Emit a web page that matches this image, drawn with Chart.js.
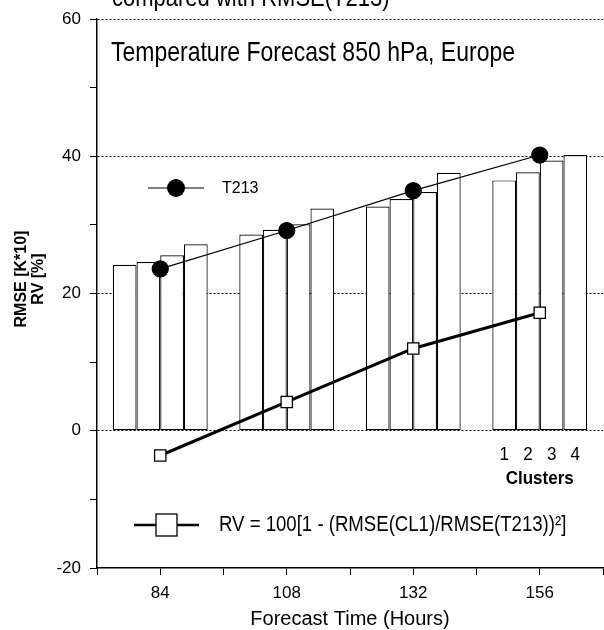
<!DOCTYPE html>
<html>
<head>
<meta charset="utf-8">
<script src="https://cdn.jsdelivr.net/npm/chart.js@4"></script>
<style>
  html, body { margin: 0; padding: 0; background: #fff; }
  #wrap { width: 604px; height: 630px; }
</style>
</head>
<body>
<div id="wrap"><canvas id="rmseChart" width="604" height="630"></canvas></div>
<script>
// data

const hours = [84, 108, 132, 156];

const cluster1 = [24.2, 28.6, 32.7, 36.5];
const cluster2 = [24.6, 29.3, 33.8, 37.7];
const cluster3 = [25.6, 30.1, 34.8, 39.4];
const cluster4 = [27.2, 32.4, 37.6, 40.2];

const t213 = [23.6, 29.2, 35.0, 40.2];
const rv = [-3.6, 4.2, 12.0, 17.2];

const xTickLabels = [84, 108, 132, 156];
const yTickLabels = [-20, 0, 20, 40, 60];

const clusterNames = ['1', '2', '3', '4'];


const FONT = 'Liberation Sans, Arial, sans-serif';
Chart.defaults.font.family = FONT;
Chart.defaults.color = '#000';

const toPoints = (vals) => vals.map((v, i) => ({ x: hours[i], y: v }));

// the ruler takes the 12h tick spacing, so 1.5 gives an 18h wide group
const clusterSets = [cluster1, cluster2, cluster3, cluster4].map((vals, i) => ({
    type: 'bar',
    label: 'Cluster ' + (i + 1),
    data: toPoints(vals),
    backgroundColor: '#fff',
    borderColor: '#000',
    borderWidth: 1.2,
    borderSkipped: false,
    categoryPercentage: 1.5,
    barPercentage: 1,
    order: 2
}));


// the scanned original has slightly tall, narrow lettering
function tallText(c, text, x, y, sy) {
    c.save();
    c.translate(x, y);
    c.scale(1, sy);
    c.fillText(text, 0, 0);
    c.restore();
}

// extra text + legend samples
const decorPlugin = {

    id: 'decor',

    afterDraw(chart) {

        const c = chart.ctx;
        c.save();
        c.fillStyle = '#000';
        c.strokeStyle = '#000';

        // clipped heading at the very top
        c.font = '22px ' + FONT;
        c.textAlign = 'left';
        c.textBaseline = 'alphabetic';
        tallText(c, 'compared with RMSE(T213)', 112, 6, 1.2);

        c.font = '23px ' + FONT;
        tallText(c, 'Temperature Forecast 850 hPa, Europe', 111, 61, 1.2);

        // y title
        c.save();
        c.translate(22, 279);
        c.rotate(-Math.PI / 2);
        c.textAlign = 'center';
        c.textBaseline = 'middle';
        c.font = 'bold 16px ' + FONT;
        c.fillText('RMSE [K*10]', 0, 0);
        c.fillText('RV [%]', 0, 17);
        c.restore();

        // T213 legend
        c.lineWidth = 1.2;
        c.beginPath();
        c.moveTo(148, 188);
        c.lineTo(204, 188);
        c.stroke();
        c.beginPath();
        c.arc(176, 188, 9, 0, Math.PI * 2);
        c.fill();
        c.font = '16px ' + FONT;
        c.textBaseline = 'middle';
        tallText(c, 'T213', 222, 188, 1.08);

        // RV legend
        c.lineWidth = 2.5;
        c.beginPath();
        c.moveTo(134, 525);
        c.lineTo(199, 525);
        c.stroke();
        c.fillStyle = '#fff';
        c.fillRect(156, 514, 21, 22);
        c.lineWidth = 1.3;
        c.strokeRect(156, 514, 21, 22);
        c.fillStyle = '#000';
        c.font = '18.6px ' + FONT;
        tallText(c, 'RV = 100[1 - (RMSE(CL1)/RMSE(T213))\u00b2]', 219, 525, 1.22);

        // cluster numbers under the last group
        c.textAlign = 'center';
        c.font = '17px ' + FONT;
        let sum = 0;
        clusterNames.forEach((name, i) => {
            const bar = chart.getDatasetMeta(2 + i).data[3];
            sum += bar.x;
            tallText(c, name, bar.x, 455, 1.1);
        });
        c.font = 'bold 17px ' + FONT;
        tallText(c, 'Clusters', sum / 4, 479, 1.1);

        c.restore();
    }
};


new Chart(document.getElementById('rmseChart'), {

    type: 'bar',

    data: {
        datasets: [
            {
                type: 'line',
                label: 'T213',
                data: toPoints(t213),
                borderColor: '#000',
                borderWidth: 1.2,
                pointRadius: 8,
                pointBackgroundColor: '#000',
                pointBorderColor: '#000',
                order: 0
            },
            {
                type: 'line',
                label: 'RV',
                data: toPoints(rv),
                borderColor: '#000',
                borderWidth: 3,
                pointStyle: 'rect',
                pointRadius: 8,
                pointBackgroundColor: '#fff',
                pointBorderColor: '#000',
                pointBorderWidth: 1.3,
                order: 1
            },
            ...clusterSets
        ]
    },

    options: {
        responsive: false,
        animation: false,
        layout: {
            autoPadding: false,
            padding: { top: 16, right: 1, left: 0, bottom: 0 }
        },
        plugins: {
            legend: { display: false },
            tooltip: { enabled: false }
        },
        scales: {
            x: {
                type: 'linear',
                min: 72,
                max: 168,
                offset: false,
                afterFit(scale) {
                    scale.height = 62;
                    scale.paddingLeft = 0;
                    scale.paddingRight = 0;
                },
                ticks: {
                    stepSize: 12,
                    padding: 8,
                    maxRotation: 0,
                    font: { size: 17 },
                    callback: (v) => xTickLabels.includes(v) ? String(v) : ''
                },
                grid: {
                    offset: false,
                    drawOnChartArea: false,
                    tickLength: 7,
                    tickColor: '#000',
                    tickWidth: 1
                },
                border: { color: '#000', width: 1.5 },
                title: {
                    display: true,
                    text: 'Forecast Time (Hours)',
                    font: { size: 20, lineHeight: 1 },
                    padding: { top: 0, bottom: 1 }
                }
            },
            y: {
                min: -20,
                max: 60,
                afterFit(scale) { scale.width = 97; },
                ticks: {
                    stepSize: 10,
                    padding: 9,
                    font: { size: 17 },
                    callback: (v) => yTickLabels.includes(v) ? String(v) : ''
                },
                grid: {
                    color: (ctx) => (ctx.tick && ctx.tick.value % 20 === 0 && ctx.tick.value > -20) ? '#000' : 'rgba(0,0,0,0)',
                    lineWidth: 1,
                    tickLength: 7,
                    tickColor: '#000',
                    tickWidth: 1,
                    tickBorderDash: []
                },
                border: { color: '#000', width: 1.5, dash: [2, 2] }
            }
        }
    },

    plugins: [decorPlugin]
});
</script>
</body>
</html>
